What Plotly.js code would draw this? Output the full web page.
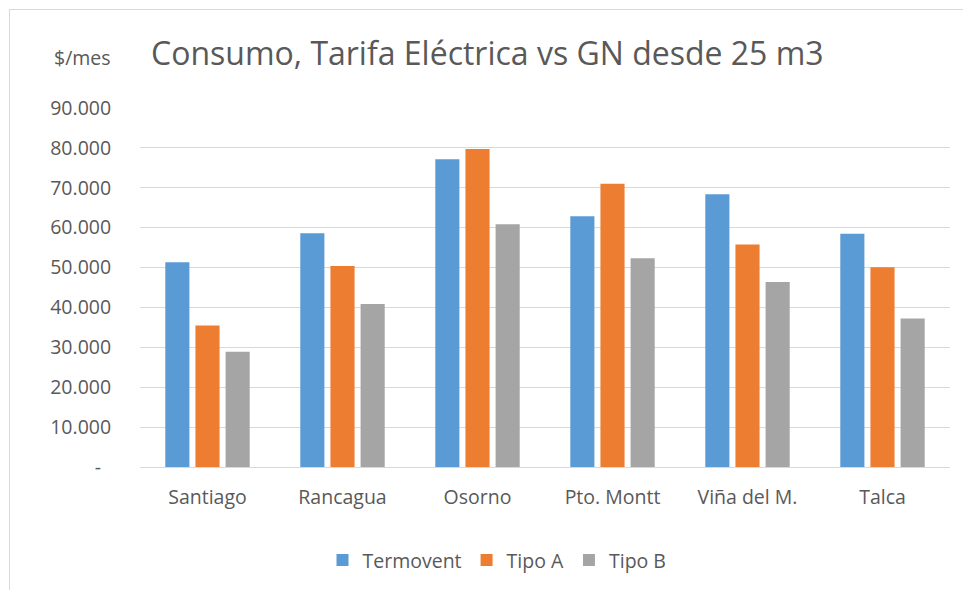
<!DOCTYPE html>
<html>
<head>
<meta charset="utf-8">
<script src="https://cdn.plot.ly/plotly-3.0.1.min.js"></script>
<style>
  html, body { margin: 0; padding: 0; background: #ffffff; }
  #wrap { position: relative; width: 963px; height: 590px; }
  #chart { width: 963px; height: 590px; }
  #frame { position: absolute; left: 9px; top: 9px; width: 954px; height: 581px;
           border-top: 1px solid #d9d9d9; border-left: 1px solid #d9d9d9; pointer-events: none; }
</style>
</head>
<body>
<div id="wrap">
  <div id="chart"></div>
  <div id="frame"></div>
</div>
<script>
const categories = ["Santiago", "Rancagua", "Osorno", "Pto. Montt", "Viña del M.", "Talca"];
const termovent = [51350, 58600, 77150, 62850, 68400, 58500];
const tipoA     = [35500, 50400, 79700, 71000, 55750, 50100];
const tipoB     = [28900, 40850, 60850, 52350, 46350, 37250];
const yTickVals = [0, 10000, 20000, 30000, 40000, 50000, 60000, 70000, 80000, 90000];
const yTickText = ["-\u00a0\u00a0", "10.000", "20.000", "30.000", "40.000", "50.000", "60.000", "70.000", "80.000", "90.000"];
const seriesNames = ["Termovent", "Tipo A", "Tipo B"];
const seriesColors = ["#5B9BD5", "#ED7D31", "#A5A5A5"];

const FONT = "Open Sans, Noto Sans, DejaVu Sans, sans-serif";
const TXT = "#595959";

const traces = [termovent, tipoA, tipoB].map((vals, i) => ({
  type: "bar",
  name: seriesNames[i],
  x: categories,
  y: vals,
  marker: { color: seriesColors[i], line: { width: 0 } },
  hoverinfo: "x+y+name"
}));

const layout = {
  width: 963,
  height: 590,
  margin: { l: 140, r: 13, t: 108, b: 122, pad: 0 },
  paper_bgcolor: "#ffffff",
  plot_bgcolor: "#ffffff",
  barmode: "group",
  bargap: 0.33,
  bargroupgap: 0.2,
  font: { family: FONT, color: TXT, size: 19 },
  title: {
    text: "Consumo, Tarifa Eléctrica vs GN desde 25 m3",
    font: { family: FONT, size: 32, color: TXT },
    xref: "container", yref: "container",
    x: 151 / 963, xanchor: "left",
    y: 1 - 54 / 590, yanchor: "middle"
  },
  xaxis: {
    type: "category",
    showgrid: false,
    showline: false,
    zeroline: false,
    ticks: "outside",
    ticklen: 13,
    tickcolor: "rgba(0,0,0,0)",
    tickfont: { family: FONT, size: 19.5, color: TXT },
    fixedrange: true
  },
  yaxis: {
    range: [0, 90000],
    tickvals: yTickVals,
    ticktext: yTickText,
    showgrid: true,
    gridcolor: "#d9d9d9",
    gridwidth: 1,
    zeroline: true,
    zerolinecolor: "#d9d9d9",
    zerolinewidth: 1,
    showline: false,
    ticks: "outside",
    ticklen: 24,
    tickcolor: "rgba(0,0,0,0)",
    tickfont: { family: FONT, size: 19.5, color: TXT },
    fixedrange: true
  },
  showlegend: true,
  legend: {
    orientation: "h",
    x: (497 - 140) / 810,
    xanchor: "center",
    y: (467.7 - 560) / 360,
    yanchor: "middle",
    font: { family: FONT, size: 19.5, color: TXT },
    itemwidth: 30,
    traceorder: "normal"
  },
  annotations: [{
    text: "$/mes",
    xref: "paper", yref: "paper",
    x: (113 - 140) / 810,
    xanchor: "right",
    y: (467.7 - 57) / 360,
    yanchor: "middle",
    showarrow: false,
    font: { family: FONT, size: 19.5, color: TXT }
  }]
};

Plotly.newPlot("chart", traces, layout, { displayModeBar: false, staticPlot: true });
</script>
</body>
</html>
